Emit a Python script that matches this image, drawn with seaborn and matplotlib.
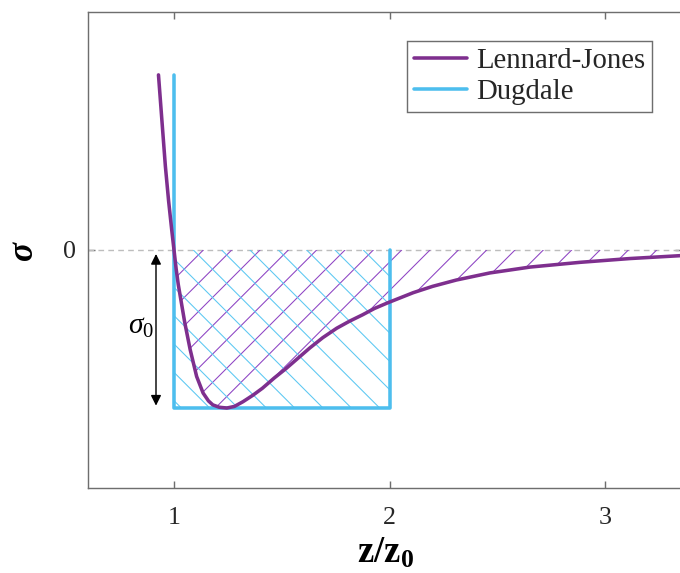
import matplotlib
matplotlib.use("Agg")
import matplotlib.pyplot as plt
import numpy as np
import pandas as pd
import seaborn as sns

# ---------------- data ----------------
lj_z = [0.928, 0.945, 0.96, 0.975, 0.99, 1.0, 1.01, 1.02, 1.035, 1.05, 1.075,
        1.105, 1.135, 1.16, 1.18, 1.21, 1.245, 1.28, 1.32, 1.365, 1.41, 1.465,
        1.52, 1.575, 1.63, 1.69, 1.755, 1.815, 1.875, 1.93, 1.99, 2.11, 2.2,
        2.31, 2.466, 2.652, 2.884, 3.116, 3.36]
lj_sigma = [1.108, 0.80, 0.53, 0.31, 0.12, 0.0, -0.12, -0.22, -0.34, -0.46, -0.63,
            -0.80, -0.905, -0.955, -0.98, -0.995, -1.0, -0.99, -0.96, -0.92, -0.875, -0.81,
            -0.75, -0.685, -0.62, -0.555, -0.495, -0.45, -0.41, -0.37, -0.335, -0.27, -0.23,
            -0.19, -0.145, -0.108, -0.078, -0.054, -0.035]

dug_z = [1.0, 1.0, 2.0, 2.0]
dug_sigma = [1.108, -1.0, -1.0, 0.0]

sigma0 = 1.0
x_ticks = [1, 2, 3]
y_ticks = [0]
labels = ["Lennard-Jones", "Dugdale"]

# ---------------- style ----------------
sns.set_theme(style="ticks")
DPI = 170
plt.rcParams["font.family"] = ["Liberation Serif", "DejaVu Serif"]
plt.rcParams["mathtext.fontset"] = "custom"
plt.rcParams["mathtext.rm"] = "Liberation Serif"
plt.rcParams["mathtext.it"] = "Liberation Serif:italic"
plt.rcParams["mathtext.bf"] = "Liberation Serif:bold"
plt.rcParams["hatch.linewidth"] = 0.45

PURPLE = "#7E2F8E"
CYAN = "#4DBEEE"
AXC = "#6e6e6e"
TXT = "#262626"

fig = plt.figure(figsize=(680 / DPI, 573 / DPI), dpi=DPI)
ax = fig.add_axes([88 / 680, (573 - 488) / 573, (682 - 88) / 680, 476 / 573])

lj = pd.DataFrame({"z": lj_z, "sigma": lj_sigma})
dug = pd.DataFrame({"z": dug_z, "sigma": dug_sigma})

# zero line
ax.axhline(0, color="#bdbdbd", ls=(0, (4, 3)), lw=0.6, zorder=1)

# hatched areas
lj_arr = np.array(lj_z)
ax.fill_between(lj_z, lj_sigma, 0, where=lj_arr >= 1.0, interpolate=True,
                facecolor="none", edgecolor="#8e44c4", linewidth=0, hatch="//", zorder=2)
ax.fill_between(dug_z[1:3], dug_sigma[1:3], 0, facecolor="none",
                edgecolor="#5cc8f2", linewidth=0, hatch="\\\\", zorder=2)

# curves
sns.lineplot(data=lj, x="z", y="sigma", color=PURPLE, lw=1.5, label=labels[0],
             ax=ax, sort=False, estimator=None, zorder=4)
sns.lineplot(data=dug, x="z", y="sigma", color=CYAN, lw=1.5, label=labels[1],
             ax=ax, sort=False, estimator=None, zorder=3)

# sigma_0 arrow
ax.annotate("", xy=(0.9165, -sigma0 + 0.015), xytext=(0.9165, -0.025),
            arrowprops=dict(arrowstyle="<|-|>", color="black", lw=0.6,
                            mutation_scale=9, shrinkA=0, shrinkB=0), zorder=5)
ax.text(0.845, -0.49, r"$\sigma_0$", fontsize=12.5, ha="center", va="center", color="black")

# axes
ax.set_xlim(0.601, 3.357)
ax.set_ylim(-1.506, 1.506)
ax.set_xticks(x_ticks)
ax.set_yticks(y_ticks)
ax.set_xticklabels([str(t) for t in x_ticks])
ax.set_yticklabels([str(t) for t in y_ticks])
ax.tick_params(axis="x", direction="in", top=True, length=3, width=0.6,
               color=AXC, labelcolor=TXT, labelsize=11, pad=8)
ax.tick_params(axis="y", direction="in", right=True, length=3, width=0.6,
               color=AXC, labelcolor=TXT, labelsize=11, pad=5)
for s in ax.spines.values():
    s.set_color(AXC)
    s.set_linewidth(0.6)

ax.set_xlabel(r"$\mathbf{z/z_0}$", fontsize=15.5, color="black", labelpad=3)
ax.set_ylabel("σ", fontsize=15, fontweight="bold", style="italic", color="black",
              labelpad=10)

leg = ax.legend(loc="upper right", bbox_to_anchor=(0.9495, 0.939), borderaxespad=0,
                fontsize=12.2, frameon=True, fancybox=False, framealpha=1,
                edgecolor=AXC, handlelength=1.85, handletextpad=0.3,
                borderpad=0.25, labelspacing=0.15)
leg.get_frame().set_linewidth(0.6)
for h in leg.get_lines():
    h.set_linewidth(1.5)

fig.savefig("out.png", dpi=DPI)
